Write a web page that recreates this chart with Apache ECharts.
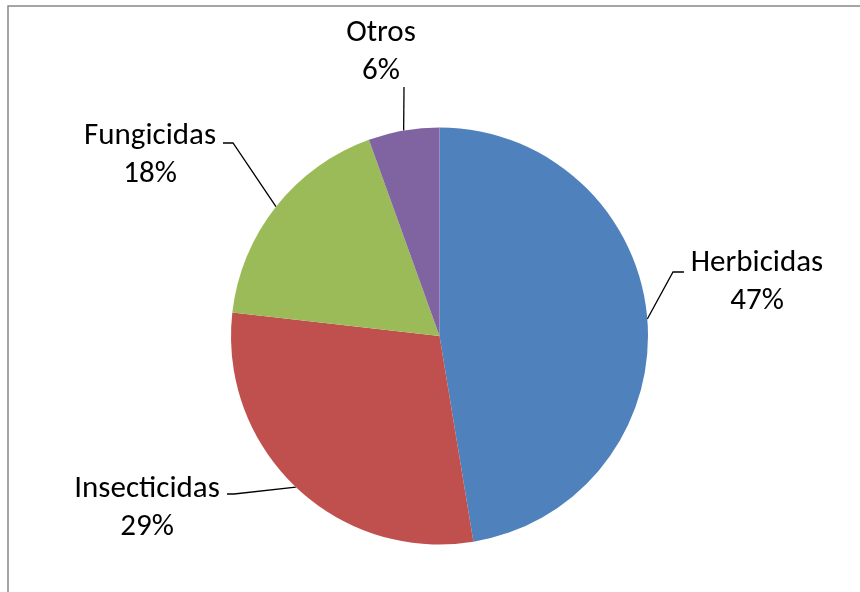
<!DOCTYPE html>
<html>
<head>
<meta charset="utf-8">
<script src="https://cdn.jsdelivr.net/npm/echarts@6/dist/echarts.min.js"></script>
<style>
html,body{margin:0;padding:0;background:#fff;}
#chart{width:860px;height:592px;}
</style>
</head>
<body>
<div id="chart"></div>
<script>
var categories = ['Herbicidas', 'Insecticidas', 'Fungicidas', 'Otros'];
var values = [47.4, 29.4, 17.7, 5.5];
var colors = ['#4F81BD', '#C0504D', '#9BBB59', '#8064A2'];

// label placement (layout only)
var labelPos = [
  {x: 757, y: 282, bend: [673, 272], end: [684, 272]},
  {x: 147, y: 508, bend: [234, 494], end: [227, 494]},
  {x: 150, y: 155, bend: [233, 143], end: [223, 143]},
  {x: 381, y: 52, bend: [404, 87], end: [404, 87]}
];

var chart = echarts.init(document.getElementById('chart'), null, {renderer: 'canvas'});
var data = categories.map(function (c, i) {
  return {name: c, value: values[i], itemStyle: {color: colors[i]}};
});

chart.setOption({
  animation: false,
  backgroundColor: '#fff',
  graphic: [{
    type: 'rect',
    shape: {x: 8, y: 6, width: 1000, height: 1000},
    style: {fill: 'none', stroke: '#888', lineWidth: 1.5},
    z: -1
  }],
  series: [{
    type: 'pie',
    center: [439.5, 336],
    radius: 208.5,
    startAngle: 90,
    clockwise: true,
    data: data,
    itemStyle: {borderWidth: 0},
    label: {
      show: true,
      position: 'outside',
      formatter: function (p) { return p.name + '\n' + Math.round(p.percent) + '%'; },
      fontFamily: 'Carlito, Calibri, "Liberation Sans", Arial, sans-serif',
      fontSize: 31,
      lineHeight: 38,
      color: '#000',
      align: 'center'
    },
    labelLine: {
      show: true,
      length: 20,
      length2: 10,
      lineStyle: {color: '#000', width: 1.3}
    },
    labelLayout: function (params) {
      var lp = labelPos[params.dataIndex];
      var p0 = params.labelLinePoints ? params.labelLinePoints[0] : [lp.bend[0], lp.bend[1]];
      return {
        x: lp.x,
        y: lp.y,
        align: 'center',
        verticalAlign: 'middle',
        labelLinePoints: [p0, lp.bend, lp.end]
      };
    }
  }]
});
</script>
</body>
</html>
